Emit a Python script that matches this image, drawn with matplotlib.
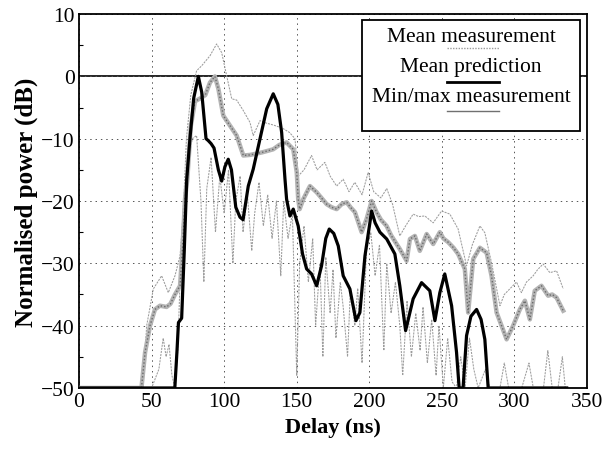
import matplotlib
matplotlib.use("Agg")
import matplotlib.pyplot as plt
import numpy as np
from matplotlib.patches import Rectangle

plt.rcParams['font.family'] = ['Liberation Serif', 'DejaVu Serif']

# ---- data (delay in ns, power in dB) ----
pred_delay = [0, 66, 67.5, 68.5, 70.7, 72.5, 74.2, 76.4, 79, 82.2, 84.5, 87.5, 89, 91, 93, 96, 98.3,
              100.5, 102.8, 105, 108, 110.9, 113, 116.6, 120, 124.7, 129.3, 133.8, 137, 139.6, 141.9,
              143, 145.3, 147.6, 151, 154, 156.8, 160.2, 163.7, 167.1, 170, 172.4, 175.5, 178.6, 182,
              186.6, 190.8, 193.5, 197, 201.6, 204, 207.3, 212, 217.6, 221, 225, 230.2, 236, 241.7,
              245.2, 248.6, 252, 256.7, 260.1, 261.9, 264.6, 267, 270, 273.9, 277, 279.6, 281.9, 336]
pred_db = [-50, -50, -44, -39.5, -38.8, -28, -16.5, -10, -3.5, 0, -2.5, -10, -10.3, -10.8, -11.5, -15, -16.8,
           -14.5, -13.3, -15, -21, -22.6, -23, -17.6, -14.9, -10, -5.2, -2.8, -4.5, -9, -16.5,
           -19.7, -22.4, -21.3, -24, -28.5, -30.9, -31.7, -33.6, -30.4, -26, -24.5, -25.2, -27.2, -32,
           -34.1, -39.2, -37.9, -28.8, -21.6, -23.5, -25, -26.1, -28.5, -33.6, -40.8, -35.7, -33.1, -34.4,
           -39.2, -34.7, -31.7, -36.8, -44.3, -50, -50, -41.6, -38.5, -37.4, -39, -42.2, -50, -50]

meas_delay = [0, 43, 45.5, 48.9, 52.3, 55.8, 60.3, 63, 66.1, 69.6, 71.4, 73, 74.6, 77, 79.9, 84.5, 87,
              90.2, 93.6, 96, 99.4, 104, 108.6, 113.2, 118, 122, 126, 129.2, 133.8, 138, 143, 147.6,
              150, 151, 152, 154.5, 159.1, 163.7, 167, 170.6, 174, 177.5, 181, 184.4, 187, 190.1,
              194.7, 198.1, 201.6, 205, 208, 211.9, 215, 218.8, 221, 225.7, 228, 231.4, 234.8, 239.5,
              244, 248.6, 251, 254.3, 258, 261.2, 265.8, 268.1, 271.6, 276.2, 280.8, 284.2, 287.7,
              291.1, 294.6, 299.1, 303.7, 307.2, 310.6, 314, 318.6, 323.2, 326, 329, 333.6]
meas_db = [-50, -50, -44.3, -40, -37.4, -36.8, -37, -36.5, -35, -33.6, -27.2, -19.7, -16.5, -8, -4, -3.4, -3,
           -1, 0, -2, -6.3, -7.9, -9.5, -12.7, -12.6, -12.4, -12.2, -12, -11.7, -11, -10.6, -11.7,
           -15.4, -19.7, -21.3, -19.7, -17.6, -18.6, -19.5, -20.5, -21, -21.3, -20.5, -20.2, -21, -21.8,
           -25, -22.9, -20, -21.8, -23, -24, -25.5, -26.9, -27.7, -29.6, -26.1, -25.6, -28, -25.3,
           -26.9, -25, -26, -26.6, -27.5, -28.5, -30.9, -37.9, -29.3, -27.5, -28.3, -32, -37.9,
           -40, -42.2, -40, -37.4, -36, -39, -34.4, -33.6, -35.2, -35, -35.5, -37.6]

max_delay = [44, 46.6, 51.2, 56.9, 61.5, 66.1, 69.6, 71.8, 74, 77, 81, 84.5, 90.2, 94.8, 98.3, 101.7,
             105.2, 108.6, 113.2, 117.8, 120, 124.7, 129, 133.8, 140, 145, 148.8, 151, 155, 160.2, 164,
             169.4, 173, 177.5, 182, 186, 190, 195, 199.2, 203, 208, 212, 216, 221, 225, 230.2, 234,
             238.3, 244, 249.8, 255.5, 261.2, 267, 271, 276.2, 279.6, 284.2, 290, 293, 296.8, 301.4,
             304.8, 308.3, 312.9, 316, 319.8, 324.4, 329, 333.6]
max_db = [-50, -40, -34.1, -32, -34.7, -32, -28.8, -21.8, -10, -3, 0.9, 1.7, 3.3, 5.2, 3.8, 0.1,
          -3.6, -3.8, -5.5, -7.4, -9.5, -7.1, -7.5, -7.8, -8.3, -9, -10, -16, -15, -12.7, -15,
          -13.8, -16, -17.6, -16.5, -18.5, -17, -19, -15.4, -18.5, -19.5, -18, -20.5, -25.6, -24, -22.1, -22.5,
          -22.4, -23.5, -21.6, -22.1, -24.5, -30.4, -27, -24, -25.1, -29.9, -36.8, -35, -34.1, -33,
          -34.7, -33, -32, -31, -30.1, -31.5, -31.2, -34.1]

min_delay = [45, 50, 55, 58, 60, 62, 64, 66, 68, 70, 72, 75, 78, 81, 84, 86, 88, 91, 94, 97, 100, 103,
             106, 108, 111, 113, 116, 119, 121, 124, 127, 130, 133, 136, 139, 141, 144, 147, 150, 152,
             155, 158, 161, 163, 166, 168, 170, 173, 175, 177, 180, 182, 185, 187, 190, 192, 195, 198,
             201, 204, 207, 210, 212, 215, 218, 221, 223, 226, 229, 232, 235, 237, 240, 243, 246, 248,
             251, 254, 257, 260, 263, 266, 269, 272, 275, 280, 283, 290, 293, 296, 305, 310, 313, 320,
             323, 326, 330, 333, 335]
min_db = [-50, -50, -47, -42, -45, -43, -48, -50, -44, -30, -20, -14, -10, -9.5, -20, -33, -18, -13, -25,
          -16, -22, -15, -30, -20, -16, -25, -19, -28, -22, -17, -24, -19, -26, -20, -32, -20, -26, -22,
          -48, -30, -24, -33, -26, -40, -30, -45, -29, -38, -31, -42, -33, -37, -45, -34, -40, -34, -46,
          -28, -25, -32, -27, -44, -30, -38, -33, -40, -48, -36, -45, -38, -44, -37, -46, -39, -48, -40,
          -50, -42, -49, -50, -45, -50, -42, -47, -50, -47, -50, -50, -46, -50, -50, -46, -50, -50,
          -44, -50, -50, -45, -50]

x_ticks = [0, 50, 100, 150, 200, 250, 300, 350]
y_ticks = [10, 0, -10, -20, -30, -40, -50]
legend_labels = ["Mean measurement", "Mean prediction", "Min/max measurement"]

# ---- figure ----
fig = plt.figure(figsize=(6.08, 4.56), dpi=100)
ax = fig.add_axes([0.130, 0.147, 0.8355, 0.820])

grey_thin = '#9c9c9c'
ax.plot(min_delay, min_db, color=grey_thin, lw=0.75, ls=(0, (2, 1)), zorder=2)
ax.plot(max_delay, max_db, color=grey_thin, lw=0.75, ls=(0, (2, 1)), zorder=2)
ax.plot(meas_delay, meas_db, color='#b4b4b4', lw=3.2, zorder=3, solid_joinstyle='round')
ax.plot(meas_delay, meas_db, color='#6a6a6a', lw=1.0, ls=(0, (1, 1.5)), zorder=3.1)
ax.plot(pred_delay, pred_db, color='black', lw=2.3, zorder=4, solid_joinstyle='round')

ax.axhline(0, color='black', lw=1.2, zorder=1.5)

ax.set_xlim(0, 350)
ax.set_ylim(-50, 10)
ax.set_xticks(x_ticks)
ax.set_yticks(y_ticks)
ax.set_yticks(np.arange(-45, 10, 10), minor=True)
ax.tick_params(axis='both', which='major', direction='in', length=0, labelsize=15.5, pad=3)
ax.tick_params(axis='y', which='minor', direction='in', length=3, width=0.8)
ax.grid(True, which='major', color='#555555', lw=0.7, ls=(0, (1.5, 4)))
for s in ax.spines.values():
    s.set_linewidth(1.3)

ax.set_xlabel("Delay (ns)", fontsize=16, fontweight='bold', labelpad=4)
ax.set_ylabel("Normalised power (dB)", fontsize=18, fontweight='bold', labelpad=2)

# ---- custom legend: text with sample line below ----
bx0, bx1, by0, by1 = 0.558, 0.986, 0.688, 0.983
ax.add_patch(Rectangle((bx0, by0), bx1 - bx0, by1 - by0, transform=ax.transAxes,
                       facecolor='white', edgecolor='black', lw=1.3, zorder=10))
cx = (bx0 + bx1) / 2
text_y = [0.939, 0.859, 0.779]
line_y = [0.909, 0.819, 0.740]
lx0, lx1 = 0.724, 0.826
for lab, ty in zip(legend_labels, text_y):
    ax.text(cx, ty, lab, transform=ax.transAxes, ha='center', va='center', fontsize=15.5, zorder=11)
ax.plot([lx0, lx1], [line_y[0]] * 2, transform=ax.transAxes, color='#9a9a9a', lw=1.0,
        ls=(0, (1, 1)), zorder=11)
ax.plot([lx0, lx1], [line_y[1]] * 2, transform=ax.transAxes, color='black', lw=2.0, zorder=11)
ax.plot([lx0, lx1], [line_y[2]] * 2, transform=ax.transAxes, color='#707070', lw=1.0, zorder=11)

fig.savefig("out.png", dpi=100)
